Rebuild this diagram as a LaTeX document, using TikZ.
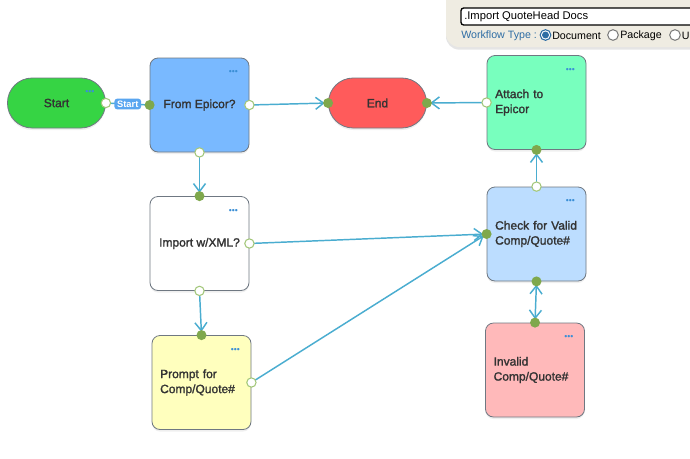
\documentclass[tikz,border=0pt]{standalone}
\usepackage{fontspec}
\setmainfont{Liberation Sans}
\newfontfamily\medfont[FakeBold=1.6]{Liberation Sans}
\usetikzlibrary{arrows.meta,positioning,shadows}
\definecolor{ink}{HTML}{333333}
\definecolor{boxline}{HTML}{6F7882}
\definecolor{wire}{HTML}{4AADD0}
\definecolor{portgreen}{HTML}{7FA84C}
\definecolor{portring}{HTML}{A3C77A}
\definecolor{dotblue}{HTML}{3B8FD6}
\definecolor{tagblue}{HTML}{5AA6F0}
\definecolor{panel}{HTML}{EFECE2}
\definecolor{formblue}{HTML}{2E6DA4}
\definecolor{cStart}{HTML}{36D444}
\definecolor{cEpicor}{HTML}{79B9FF}
\definecolor{cEnd}{HTML}{FF5B5B}
\definecolor{cAttach}{HTML}{78FFBE}
\definecolor{cPrompt}{HTML}{FFFFBE}
\definecolor{cCheck}{HTML}{BCDDFF}
\definecolor{cInvalid}{HTML}{FFB9BA}
\tikzset{
  task/.style={rectangle,draw=boxline,line width=0.6pt,rounded corners=6pt,
    minimum width=74.25pt,minimum height=70.5pt,inner sep=0pt,text=ink,
    font=\medfont\fontsize{9}{11.25}\selectfont,
    drop shadow={shadow xshift=0pt,shadow yshift=-1.5pt,opacity=0.12}},
  term/.style={task,rounded corners=18.5pt,minimum width=73.5pt,minimum height=37.5pt},
  wrap/.style={text width=62pt,align=left},
  barb/.tip={Straight Barb[length=6pt,width=9pt,line width=1.1pt]},
  flow/.style={line width=1.1pt,wire,-barb,shorten >=2.5pt},
  twoway/.style={line width=1.1pt,wire,barb-barb,shorten >=2.5pt,shorten <=2.5pt},
  portin/.style={circle,fill=portgreen,inner sep=0pt,minimum size=7.5pt},
  portout/.style={circle,draw=portring,fill=white,line width=0.8pt,inner sep=0pt,minimum size=7pt},
  more/.style={text=dotblue,inner sep=0pt,font=\fontsize{6.5}{6.5}\selectfont},
  tag/.style={fill=tagblue,rounded corners=2pt,text=white,inner xsep=2pt,inner ysep=1.5pt,
    font=\bfseries\fontsize{7}{7}\selectfont},
  form/.style={anchor=west,inner sep=0pt,font=\fontsize{8}{8}\selectfont},
  radio/.style={circle,draw=#1,line width=0.8pt,fill=white,inner sep=0pt,minimum size=8pt},
}
\newcommand{\moredots}[1]{\node[more] at ([xshift=-12pt,yshift=-11.25pt]#1.north east) {\textbullet\textbullet\textbullet};}
\begin{document}
\begin{tikzpicture}[x=0.75pt,y=-0.75pt]
  \fill[white] (0,0) rectangle (690,458);
  \clip (0,0) rectangle (690,458);
  % settings panel
  \fill[panel,rounded corners=10,drop shadow={shadow xshift=0pt,shadow yshift=-2pt,opacity=0.2}]
    (446,-20) rectangle (730,47);
  \draw[fill=white,line width=1pt,rounded corners=2] (461,8) rectangle (730,25);
  \node[form,text=black,font=\fontsize{8.4}{8.4}\selectfont] (title) at (464,16.5) {.Import QuoteHead Docs};
  \node[form,text=formblue] (wftype) at (461,35.5) {Workflow Type :};
  \node[radio=formblue] (rdoc) at (545.5,35) {};
  \fill[formblue] (rdoc) circle (2.6pt);
  \node[form,text=black] (ldoc) at (552,35.5) {Document};
  \node[radio=gray] (rpkg) at (613,35) {};
  \node[form,text=black] (lpkg) at (620,35.5) {Package};
  \node[radio=gray] (rusr) at (675,35) {};
  \node[form,text=black] (lusr) at (681.5,35.5) {U};

  % steps
  \node[term,fill=cStart] (start) at (56.5,103) {Start};
  \node[task,fill=cEpicor] (epicor) at (199.5,105) {From Epicor?};
  \node[term,fill=cEnd] (finish) at (377.5,103) {End};
  \node[task,fill=cAttach,wrap] (attach) at (536.5,102.5) {Attach to\\Epicor};
  \node[task,fill=white] (import) at (199.5,243.5) {Import w/XML?};
  \node[task,fill=cPrompt,wrap] (prompt) at (201.5,382.5) {Prompt for\\Comp/Quote\#};
  \node[task,fill=cCheck,wrap] (check) at (536.5,234) {Check for Valid\\Comp/Quote\#};
  \node[task,fill=cInvalid,wrap] (invalid) at (535,370) {Invalid\\Comp/Quote\#};
  \moredots{start}
  \moredots{epicor}
  \moredots{attach}
  \moredots{import}
  \moredots{prompt}
  \moredots{check}
  \moredots{invalid}

  % links
  \draw[line width=1.1pt,wire] (start.east) -- node[tag] (starttag) {Start} (epicor.west);
  \draw[flow] (epicor.east) -- (finish.west);
  \draw[flow] (attach.west) -- (finish.east);
  \draw[flow] (epicor.south) -- (import.north);
  \draw[flow] (import.south) -- (prompt.north);
  \draw[flow] (import.east) -- (check.west);
  \draw[flow] (prompt.east) -- (check.west);
  \draw[flow] (check.north) -- (attach.south);
  \draw[twoway] (check.south) -- (invalid.north);

  % ports
  \foreach \p in {start.east,epicor.east,epicor.south,attach.west,import.south,import.east,prompt.east,check.north}
    \node[portout] at (\p) {};
  \foreach \p in {epicor.west,finish.west,finish.east,import.north,prompt.north,check.west,attach.south,check.south,invalid.north}
    \node[portin] at (\p) {};
\end{tikzpicture}
\end{document}
